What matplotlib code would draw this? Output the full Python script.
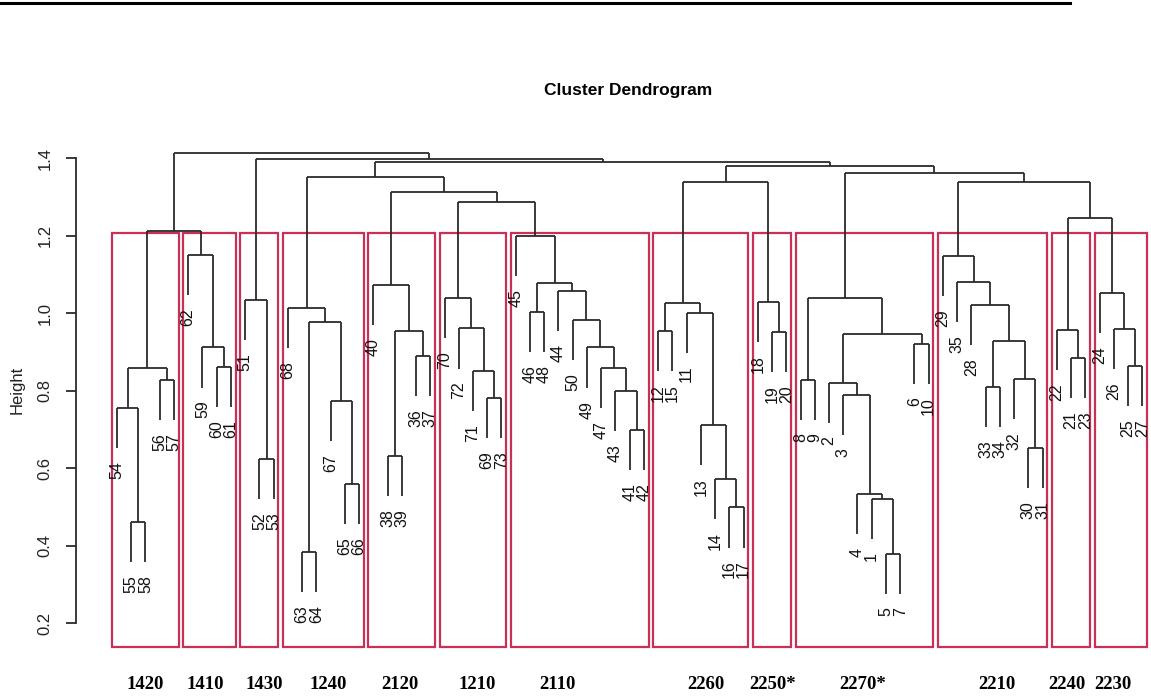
import numpy as np
import matplotlib.pyplot as plt
from matplotlib.lines import Line2D
from matplotlib.patches import Rectangle

plt.rcParams["font.family"] = ["Liberation Sans", "DejaVu Sans"]

# hclust-style merge table: negative = observation, positive = earlier merge (1-based)
merge_left = [-55, -54, -56, 2, -60, -59, -62, 4,
              -52, -51,
              -63, -65, -67, 11, -68,
              -38, -36, 16, -40,
              -69, -71, -72, -70,
              -41, -43, -47, -49, -50, -44, -46, 30, -45,
              -12, -16, -14, -13, -11, 33,
              -19, -18,
              -8, -5, -1, -4, -3, -2, -6, 46, 41,
              -30, -32, -33, 52, -28, -35, -29,
              -21, -22,
              -25, -26, -24,
              58, 56, 49, 38, 65, 23, 19, 15, 69, 10, 8]
merge_right = [-58, 1, -57, 3, -61, 5, 6, 7,
               -53, 9,
               -64, -66, 12, 13, 14,
               -39, -37, 17, 18,
               -73, 20, 21, 22,
               -42, 24, 25, 26, 27, 28, -48, 29, 31,
               -15, -17, 34, 35, 36, 37,
               -20, 39,
               -9, -7, 42, 43, 44, 45, -10, 47, 48,
               -31, 50, -34, 51, 53, 54, 55,
               -23, 57,
               -27, 59, 60,
               61, 62, 63, 40, 64, 32, 67, 68, 66, 70, 71]
merge_height = [0.462, 0.755, 0.828, 0.858, 0.862, 0.912, 1.150, 1.212,
                0.623, 1.034,
                0.385, 0.559, 0.774, 0.978, 1.013,
                0.632, 0.891, 0.954, 1.073,
                0.781, 0.851, 0.961, 1.039,
                0.699, 0.800, 0.858, 0.912, 0.983, 1.058, 1.004, 1.077, 1.200,
                0.954, 0.499, 0.572, 0.712, 1.002, 1.026,
                0.951, 1.030,
                0.829, 0.379, 0.520, 0.533, 0.789, 0.821, 0.921, 0.947, 1.039,
                0.652, 0.830, 0.809, 0.929, 1.021, 1.082, 1.148,
                0.884, 0.957,
                0.865, 0.959, 1.052,
                1.245, 1.340, 1.363, 1.340, 1.380, 1.288, 1.314, 1.351, 1.391, 1.397, 1.414]

group_names = ["1420", "1410", "1430", "1240", "2120", "1210", "2110",
               "2260", "2250*", "2270*", "2210", "2240", "2230"]
group_sizes = [5, 4, 3, 6, 5, 5, 10, 7, 3, 10, 8, 3, 4]
group_label_pos = [2.97, 7.21, 11.32, 15.82, 20.87, 26.28, 31.9,
                   42.36, 47.07, 53.39, 62.8, 67.71, 70.94]

n_merge = len(merge_height)


def leaves_of(k):
    if k < 0:
        return [-k]
    return leaves_of(merge_left[k - 1]) + leaves_of(merge_right[k - 1])


order = leaves_of(n_merge)
leaf_x = {leaf: i + 1 for i, leaf in enumerate(order)}
hang = 0.1 * (max(merge_height) - min(merge_height))

fig = plt.figure(figsize=(11.51, 6.98), dpi=100)
ax = fig.add_axes([76 / 1151, 0, 1 - 76 / 1151, 1])
ax.set_xlim(1 - 41 / 14.24, 1 + 1034 / 14.24)
ax.set_ylim(1.4 - 539.7 / 387.5, 1.4 + 158.3 / 387.5)

line_col = "#2b2b2b"
node_x = {}
for k in range(1, n_merge + 1):
    h = merge_height[k - 1]
    xs = []
    for c in (merge_left[k - 1], merge_right[k - 1]):
        if c < 0:
            xc, yc = leaf_x[-c], h - hang
            ax.text(xc, yc - 0.034, str(-c), rotation=90, ha="center", va="top",
                    fontsize=11.5, color="#111111")
        else:
            xc, yc = node_x[c], merge_height[c - 1]
        ax.plot([xc, xc], [yc, h], color=line_col, lw=1.3, solid_capstyle="butt")
        xs.append(xc)
    ax.plot(xs, [h, h], color=line_col, lw=1.3, solid_capstyle="butt")
    node_x[k] = np.mean(xs)

# rect.hclust style boxes, k = 13
srt = sorted(merge_height, reverse=True)
box_top = (srt[11] + srt[12]) / 2
box_bottom = 0.14
edges = np.concatenate([[0], np.cumsum(group_sizes)])
for i, name in enumerate(group_names):
    left = edges[i] + 0.66
    right = edges[i + 1] + 0.33
    ax.add_patch(Rectangle((left, box_bottom), right - left, box_top - box_bottom,
                           fill=False, edgecolor="#cc2f55", lw=1.6, clip_on=False))
    ax.text(group_label_pos[i], 0.041, name, ha="center", va="center",
            fontsize=13.5, fontweight="bold", family=["Liberation Serif", "DejaVu Serif"])

for s in ["top", "right", "bottom"]:
    ax.spines[s].set_visible(False)
ax.spines["left"].set_bounds(0.2, 1.4)
ax.spines["left"].set_linewidth(1.3)
ax.spines["left"].set_color(line_col)
yt = [0.2, 0.4, 0.6, 0.8, 1.0, 1.2, 1.4]
ax.set_yticks(yt)
ax.set_yticklabels([f"{v:.1f}" for v in yt], rotation=90, va="center", fontsize=12)
ax.tick_params(axis="y", length=7, width=1.3, pad=10, color=line_col, labelcolor="#222222")
ax.set_xticks([])

fig.text(17 / 1151, 1 - 390 / 698, "Height", rotation=90, ha="center", va="center",
         fontsize=12, color="#222222")
fig.text(628 / 1151, 1 - 91 / 698, "Cluster Dendrogram", ha="center", va="center",
         fontsize=12.5, fontweight="bold")
fig.add_artist(Line2D([0, 1070 / 1151], [1 - 3 / 698, 1 - 3 / 698], color="black", lw=2.2,
                      transform=fig.transFigure))

fig.savefig("out.png", dpi=100)
